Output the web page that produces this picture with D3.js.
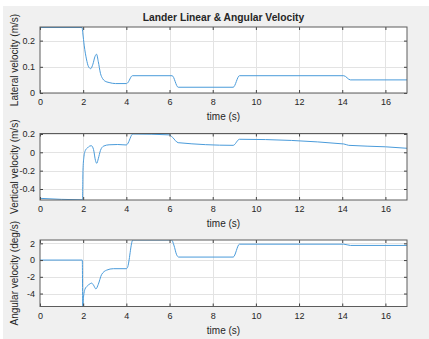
<!DOCTYPE html>
<html>
<head>
<meta charset="utf-8">
<script src="https://cdn.jsdelivr.net/npm/d3@7"></script>
<style>
  html, body { margin: 0; padding: 0; background: #ffffff; }
  svg { display: block; }
  text { font-family: "Liberation Sans", Arial, Helvetica, sans-serif; fill: #262626; }
</style>
</head>
<body>
<svg id="chart" width="429" height="339"></svg>
<script>
// Lateral velocity (m/s) over time (s)
const lateralTime = [0, 1.95, 1.98, 2.05, 2.15, 2.25, 2.35, 2.45, 2.55, 2.62, 2.7, 2.8, 2.9, 3.0, 3.2, 3.5, 4.0, 4.05, 4.28, 6.12, 6.4, 8.95, 9.24, 14.07, 14.38, 17];
const lateralVel  = [0.25, 0.25, 0.23, 0.18, 0.13, 0.10, 0.093, 0.11, 0.14, 0.148, 0.12, 0.075, 0.055, 0.046, 0.04, 0.036, 0.036, 0.038, 0.066, 0.066, 0.022, 0.022, 0.066, 0.066, 0.05, 0.05];

// Vertical velocity (m/s) over time (s)
const verticalTime = [0, 1.97, 1.99, 2.03, 2.1, 2.2, 2.3, 2.38, 2.48, 2.57, 2.63, 2.7, 2.8, 2.95, 3.2, 3.6, 4.0, 4.05, 4.3, 6.0, 6.15, 6.4, 8.95, 9.24, 14.07, 14.3, 16, 17];
const verticalVel  = [-0.502, -0.518, -0.2, -0.06, 0.02, 0.048, 0.068, 0.072, 0.03, -0.09, -0.12, -0.07, 0.02, 0.068, 0.082, 0.085, 0.08, 0.09, 0.2, 0.19, 0.16, 0.105, 0.076, 0.142, 0.091, 0.076, 0.06, 0.044];

// Angular velocity (deg/s) over time (s)
const angularTime = [0, 1.96, 1.98, 2.02, 2.08, 2.19, 2.31, 2.39, 2.48, 2.59, 2.7, 2.85, 3.09, 3.4, 4.0, 4.05, 4.3, 6.1, 6.2, 6.33, 6.42, 8.95, 9.24, 14.07, 14.38, 17];
const angularVel  = [0, 0, -5.5, -4.3, -3.5, -3.1, -2.85, -2.75, -3.0, -3.45, -2.9, -1.75, -1.2, -1.03, -1.03, -0.9, 2.4, 2.4, 1.8, 0.63, 0.36, 0.36, 1.9, 1.9, 1.75, 1.75];

// Axis ticks
const timeTicks = [0, 2, 4, 6, 8, 10, 12, 14, 16];
const lateralTicks = [0, 0.1, 0.2];
const verticalTicks = [-0.4, -0.2, 0, 0.2];
const angularTicks = [-4, -2, 0, 2];

const titleText = "Lander Linear & Angular Velocity";
const xLabelText = "time (s)";

const svg = d3.select("#chart");
const W = 429, H = 339;

// figure background
svg.append("rect").attr("x", 3).attr("y", 6).attr("width", W - 3).attr("height", H - 6).attr("fill", "#f0f0f0");

const left = 40, right = 407;
const x = d3.scaleLinear().domain([0, 17]).range([left, right]);

const panels = [
  { time: lateralTime, vals: lateralVel, ticks: lateralTicks, domain: [0, 0.252], top: 27, bottom: 93, ylabel: "Lateral velocity (m/s)" },
  { time: verticalTime, vals: verticalVel, ticks: verticalTicks, domain: [-0.52, 0.205], top: 133.5, bottom: 200, ylabel: "Vertical velocity (m/s)" },
  { time: angularTime, vals: angularVel, ticks: angularTicks, domain: [-5.55, 2.4], top: 240, bottom: 306.5, ylabel: "Angular velocity (deg/s)" }
];

const fmt = d => String(d);

panels.forEach((p, i) => {
  const y = d3.scaleLinear().domain(p.domain).range([p.bottom, p.top]);
  const g = svg.append("g");

  // plot area
  g.append("rect").attr("x", left).attr("y", p.top).attr("width", right - left).attr("height", p.bottom - p.top).attr("fill", "#ffffff");

  // grid
  g.append("g").selectAll("line").data(timeTicks.filter(t => t > 0)).join("line")
    .attr("x1", d => Math.round(x(d)) + 0.5).attr("x2", d => Math.round(x(d)) + 0.5)
    .attr("y1", p.top).attr("y2", p.bottom)
    .attr("stroke", "#e3e3e3").attr("stroke-width", 1);
  g.append("g").selectAll("line").data(p.ticks).join("line")
    .attr("y1", d => Math.round(y(d)) + 0.5).attr("y2", d => Math.round(y(d)) + 0.5)
    .attr("x1", left).attr("x2", right)
    .attr("stroke", "#e3e3e3").attr("stroke-width", 1);

  // data line
  const clipId = "clip" + i;
  svg.append("clipPath").attr("id", clipId).append("rect")
    .attr("x", left).attr("y", p.top).attr("width", right - left).attr("height", p.bottom - p.top);
  const pts = p.time.map((t, k) => [t, p.vals[k]]);
  g.append("path")
    .attr("clip-path", `url(#${clipId})`)
    .attr("d", d3.line().x(d => x(d[0])).y(d => y(d[1])).curve(d3.curveMonotoneX)(pts))
    .attr("fill", "none").attr("stroke", "#4a9bda").attr("stroke-width", 1);

  // axes with inward ticks on all four sides
  const axB = g.append("g").attr("transform", `translate(0,${p.bottom})`)
    .call(d3.axisBottom(x).tickValues(timeTicks).tickFormat(fmt).tickSizeInner(-3).tickSizeOuter(0).tickPadding(6));
  const axT = g.append("g").attr("transform", `translate(0,${p.top})`)
    .call(d3.axisTop(x).tickValues(timeTicks).tickFormat("").tickSizeInner(-3).tickSizeOuter(0));
  const axL = g.append("g").attr("transform", `translate(${left},0)`)
    .call(d3.axisLeft(y).tickValues(p.ticks).tickFormat(fmt).tickSizeInner(-3).tickSizeOuter(0).tickPadding(5));
  const axR = g.append("g").attr("transform", `translate(${right},0)`)
    .call(d3.axisRight(y).tickValues(p.ticks).tickFormat("").tickSizeInner(-3).tickSizeOuter(0));
  [axB, axT, axL, axR].forEach(a => {
    a.selectAll(".domain").remove();
    a.selectAll("line").attr("stroke", "#404040");
    a.selectAll("text").attr("font-size", 9).attr("fill", "#333333").style("font-family", '"Liberation Sans", Arial, sans-serif');
  });

  // box
  g.append("rect").attr("x", left).attr("y", p.top).attr("width", right - left).attr("height", p.bottom - p.top)
    .attr("fill", "none").attr("stroke", "#5c5c5c").attr("stroke-width", 1);

  // x label
  g.append("text").attr("x", (left + right) / 2).attr("y", p.bottom + 27)
    .attr("text-anchor", "middle").attr("font-size", 10).text(xLabelText);

  // y label
  g.append("text")
    .attr("transform", `translate(15,${(p.top + p.bottom) / 2}) rotate(-90)`)
    .attr("text-anchor", "middle").attr("dominant-baseline", "middle").attr("font-size", 10).text(p.ylabel);
});

// title
svg.append("text").attr("x", (left + right) / 2).attr("y", 21)
  .attr("text-anchor", "middle").attr("font-size", 10.3).attr("font-weight", "bold").text(titleText);
</script>
</body>
</html>
